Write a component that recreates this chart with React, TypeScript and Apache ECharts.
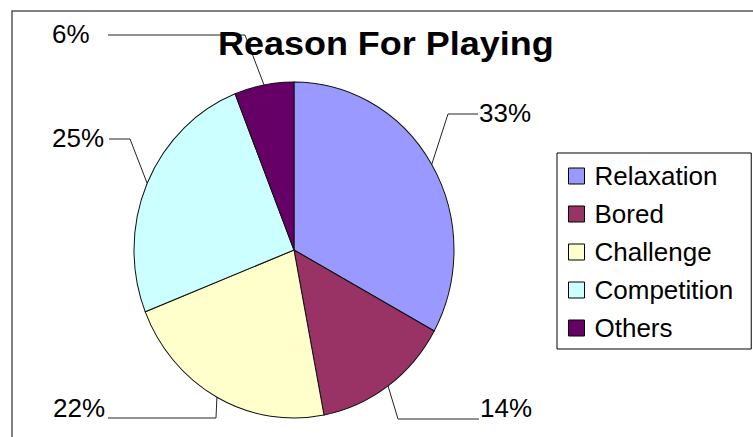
import React, { useEffect, useRef } from "react";
import * as echarts from "echarts";

const TITLE = "Reason For Playing";
const CATEGORIES = ["Relaxation", "Bored", "Challenge", "Competition", "Others"];
const VALUES = [33, 14, 22, 25, 6];
const COLORS = ["#9999FF", "#993366", "#FFFFCC", "#CCFFFF", "#660066"];

// label placement (layout only): text anchor, elbow point and end of the leader line
const LABEL_LAYOUT = [
  { tx: 479, ty: 113, elbow: [448, 114], end: [478, 114] },
  { tx: 480, ty: 408, elbow: [398, 419], end: [479, 419] },
  { tx: 53, ty: 408, elbow: [216, 418], end: [108, 418] },
  { tx: 52, ty: 138, elbow: [130, 139], end: [109, 139] },
  { tx: 52, ty: 34, elbow: [245, 35], end: [108, 35] },
];

const FONT = "'Liberation Sans', Arial, sans-serif";
const CX = 294;
const CY = 250;
const RX = 160;
const RY = 168;

export default function App() {
  const ref = useRef<HTMLDivElement>(null);
  useEffect(() => {
    if (!ref.current) return;
    const chart = echarts.init(ref.current, null, { renderer: "svg" });
    const total = VALUES.reduce((a, b) => a + b, 0);
    const starts: number[] = [];
    let acc = 0;
    VALUES.forEach((v) => {
      starts.push(acc);
      acc += v;
    });

    const series = CATEGORIES.map((name, i) => ({
      type: "custom",
      name,
      coordinateSystem: "none",
      data: [[VALUES[i]]],
      itemStyle: { color: COLORS[i] },
      renderItem: (_params: any, api: any) => {
        const v = api.value(0) as number;
        const a0 = -Math.PI / 2 + (2 * Math.PI * starts[i]) / total;
        const a1 = a0 + (2 * Math.PI * v) / total;
        const mid = (a0 + a1) / 2;
        const edge = [CX + RX * Math.cos(mid), CY + RY * Math.sin(mid)];
        const lay = LABEL_LAYOUT[i];
        return {
          type: "group",
          children: [
            {
              type: "sector",
              x: CX,
              y: CY,
              scaleY: RY / RX,
              shape: { cx: 0, cy: 0, r: RX, r0: 0, startAngle: a0, endAngle: a1, clockwise: true },
              style: { fill: COLORS[i], stroke: "#111", lineWidth: 1 },
            },
            {
              type: "polyline",
              shape: { points: [edge, lay.elbow, lay.end] },
              style: { stroke: "#222", fill: null, lineWidth: 1 },
            },
            {
              type: "text",
              x: lay.tx,
              y: lay.ty,
              style: {
                text: `${Math.round((v / total) * 100)}%`,
                fill: "#000",
                font: `26px ${FONT}`,
                align: "left",
                verticalAlign: "middle",
              },
            },
          ],
        };
      },
    }));

    chart.setOption({
      animation: false,
      backgroundColor: "#ffffff",
      legend: {
        orient: "vertical",
        left: 557,
        top: 153,
        padding: [10, 18, 8, 11],
        borderColor: "#000",
        borderWidth: 1,
        itemWidth: 16,
        itemHeight: 16,
        itemGap: 12,
        icon: "rect",
        selectedMode: false,
        itemStyle: { borderColor: "#000", borderWidth: 1 },
        textStyle: { fontSize: 26, fontFamily: FONT, color: "#000", lineHeight: 26, padding: [0, 0, 0, 5] },
        data: CATEGORIES,
      },
      graphic: [
        {
          type: "rect",
          z: -10,
          shape: { x: 12, y: 11, width: 800, height: 500 },
          style: { fill: "none", stroke: "#555", lineWidth: 1.5 },
        },
        {
          type: "text",
          z: 10,
          x: 218,
          y: 44,
          scaleX: 1.09,
          style: {
            text: TITLE,
            fill: "#000",
            font: `bold 33px ${FONT}`,
            align: "left",
            verticalAlign: "middle",
          },
        },
      ],
      series,
    });
    return () => chart.dispose();
  }, []);
  return <div ref={ref} style={{ position: "fixed", left: 0, top: 0, width: 753, height: 437 }} />;
}
